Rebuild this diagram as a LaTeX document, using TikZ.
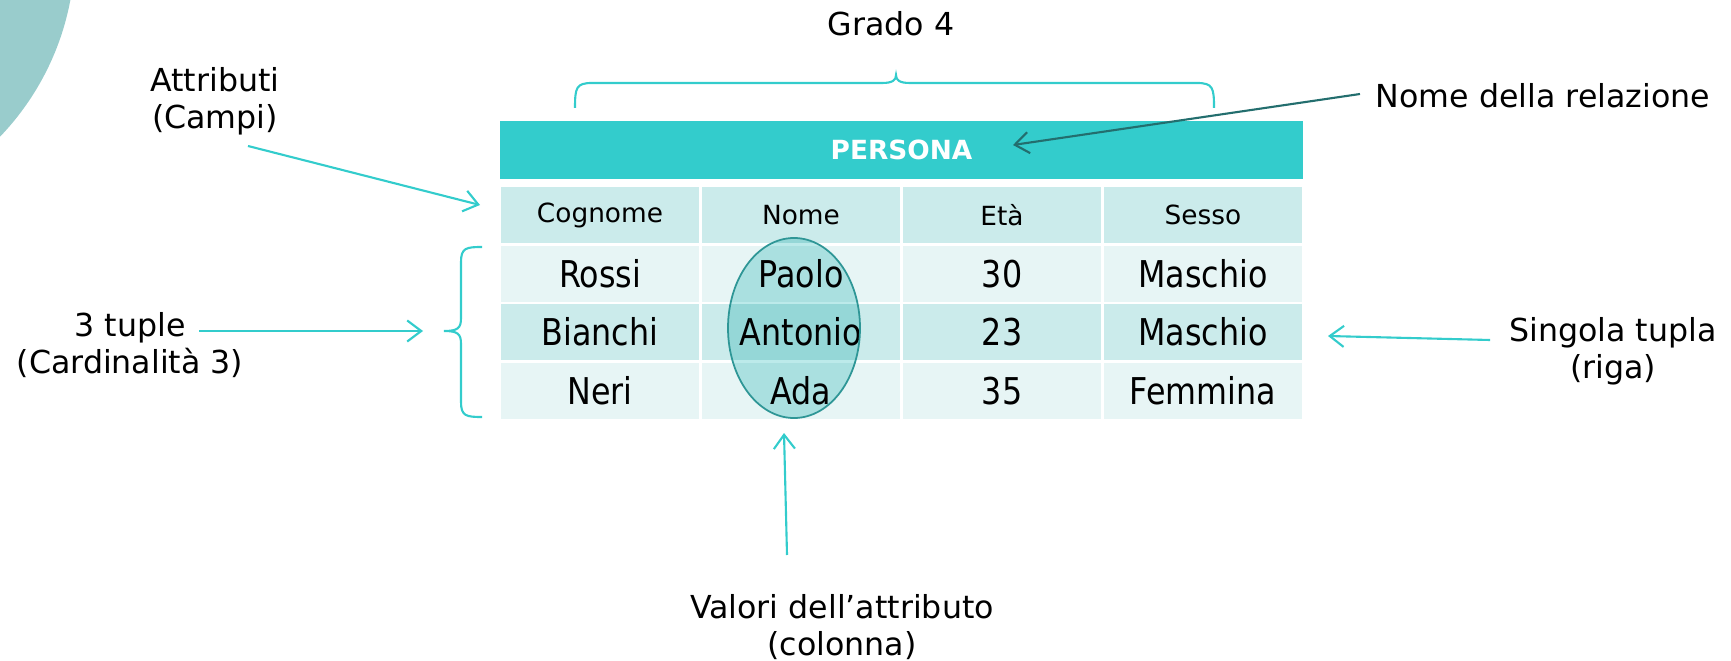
\documentclass[tikz,border=0pt]{standalone}
\usepackage{fontspec}
\setmainfont{DejaVu Sans}
\newfontfamily\condfont[FakeStretch=0.86]{DejaVu Sans}
\usetikzlibrary{arrows.meta}
\definecolor{turq}{HTML}{33CCCC}
\definecolor{cellmid}{HTML}{CBEBEB}
\definecolor{celllight}{HTML}{E7F5F5}
\definecolor{darkteal}{HTML}{236E6E}
\definecolor{blobgrey}{HTML}{99CCCC}
\definecolor{ovalline}{HTML}{2E9696}
\definecolor{ovalfill}{HTML}{BCEAEA}
\tikzstyle{headcell}=[rectangle,fill=turq,text=white,inner sep=0pt,
                      minimum width=8.03cm,minimum height=0.58cm,
                      font=\fontsize{7.5}{9}\selectfont\bfseries]
\tikzstyle{attrcell}=[rectangle,fill=cellmid,inner sep=0pt,
                      minimum width=1.98cm,minimum height=0.55cm,
                      font=\fontsize{7.5}{9}\selectfont]
\tikzstyle{oddcell}=[attrcell,fill=celllight,
                     font=\condfont\fontsize{10.5}{12}\selectfont]
\tikzstyle{evencell}=[oddcell,fill=cellmid]
\tikzstyle{note}=[align=center,inner sep=0pt,
                  font=\fontsize{9}{10.5}\selectfont]
\tikzstyle{pointer}=[turq,line width=0.6pt,
                     -{Straight Barb[length=4pt,width=6pt]}]
\tikzstyle{curly}=[turq,line width=0.6pt]

\begin{document}
\begin{tikzpicture}[x=0.01cm,y=-0.01cm]
    \useasboundingbox (0,0) rectangle (1731,661);
    \begin{scope}
      \clip (0,0) rectangle (1731,661);
      \fill[blobgrey] (-195,-50) circle (270);
    \end{scope}

    \node (persona) at (901.5,150) [headcell]{PERSONA};
    \node (cognome) at ( 600,215) [attrcell]{Cognome};
    \node (nome)    at ( 801,215) [attrcell]{Nome};
    \node (eta)     at (1002,215) [attrcell]{Età};
    \node (sesso)   at (1203,215) [attrcell]{Sesso};

    \node (rossi)   at ( 600,274) [oddcell]{Rossi};
    \node (paolo)   at ( 801,274) [oddcell]{Paolo};
    \node (trenta)  at (1002,274) [oddcell]{30};
    \node (maschA)  at (1203,274) [oddcell]{Maschio};

    \node (bianchi) at ( 600,332) [evencell]{Bianchi};
    \node (antonio) at ( 801,332) [evencell]{Antonio};
    \node (ventitre) at (1002,332) [evencell]{23};
    \node (maschB)  at (1203,332) [evencell]{Maschio};

    \node (neri)    at ( 600,391) [oddcell]{Neri};
    \node (ada)     at ( 801,391) [oddcell]{Ada};
    \node (trentac) at (1002,391) [oddcell]{35};
    \node (femmina) at (1203,391) [oddcell]{Femmina};

    \begin{scope}[blend mode=multiply]
      \fill[ovalfill] (794,328) ellipse (66 and 90);
    \end{scope}
    \draw[ovalline,line width=0.5pt] (794,328) ellipse (66 and 90);

    \draw[curly] (575,108) .. controls (575,88) and (576,83) .. (592,83)
      -- (882,83) .. controls (893,83) and (896,80) .. (896,75)
      .. controls (896,80) and (899,83) .. (910,83)
      -- (1197,83) .. controls (1213,83) and (1214,88) .. (1214,108);
    \draw[curly] (482,247) .. controls (466,247) and (461,248) .. (461,262)
      -- (461,318) .. controls (461,328) and (458,331) .. (444,331)
      .. controls (458,331) and (461,334) .. (461,344)
      -- (461,402) .. controls (461,416) and (466,417) .. (482,417);

    \node (grado)     at (891,24)   [note]{Grado 4};
    \node (attributi) at (215,101)  [note]{Attributi\\(Campi)};
    \node (tuple)     at (130,345)  [note]{3 tuple\\(Cardinalità 3)};
    \node (relazione) at (1543,96)  [note]{Nome della relazione};
    \node (singola)   at (1613,351) [note]{Singola tupla\\(riga)};
    \node (valori)    at (842,627)  [note]{Valori dell’attributo\\(colonna)};

    \coordinate (attrfrom) at (248,146);
    \coordinate (attrto)   at (480,205);
    \coordinate (tuplefrom) at (199,331);
    \coordinate (tupleto)   at (423,331);
    \coordinate (relfrom) at (1360,94);
    \coordinate (relto)   at (1013,145);
    \coordinate (rigafrom) at (1490,340);
    \coordinate (rigato)   at (1328,336);
    \coordinate (colfrom) at (787,555);
    \coordinate (colto)   at (784,433);

    \draw[pointer] (attrfrom) -- (attrto);
    \draw[pointer] (tuplefrom) -- (tupleto);
    \draw[pointer,darkteal] (relfrom) -- (relto);
    \draw[pointer] (rigafrom) -- (rigato);
    \draw[pointer] (colfrom) -- (colto);
  \end{tikzpicture}
\end{document}
